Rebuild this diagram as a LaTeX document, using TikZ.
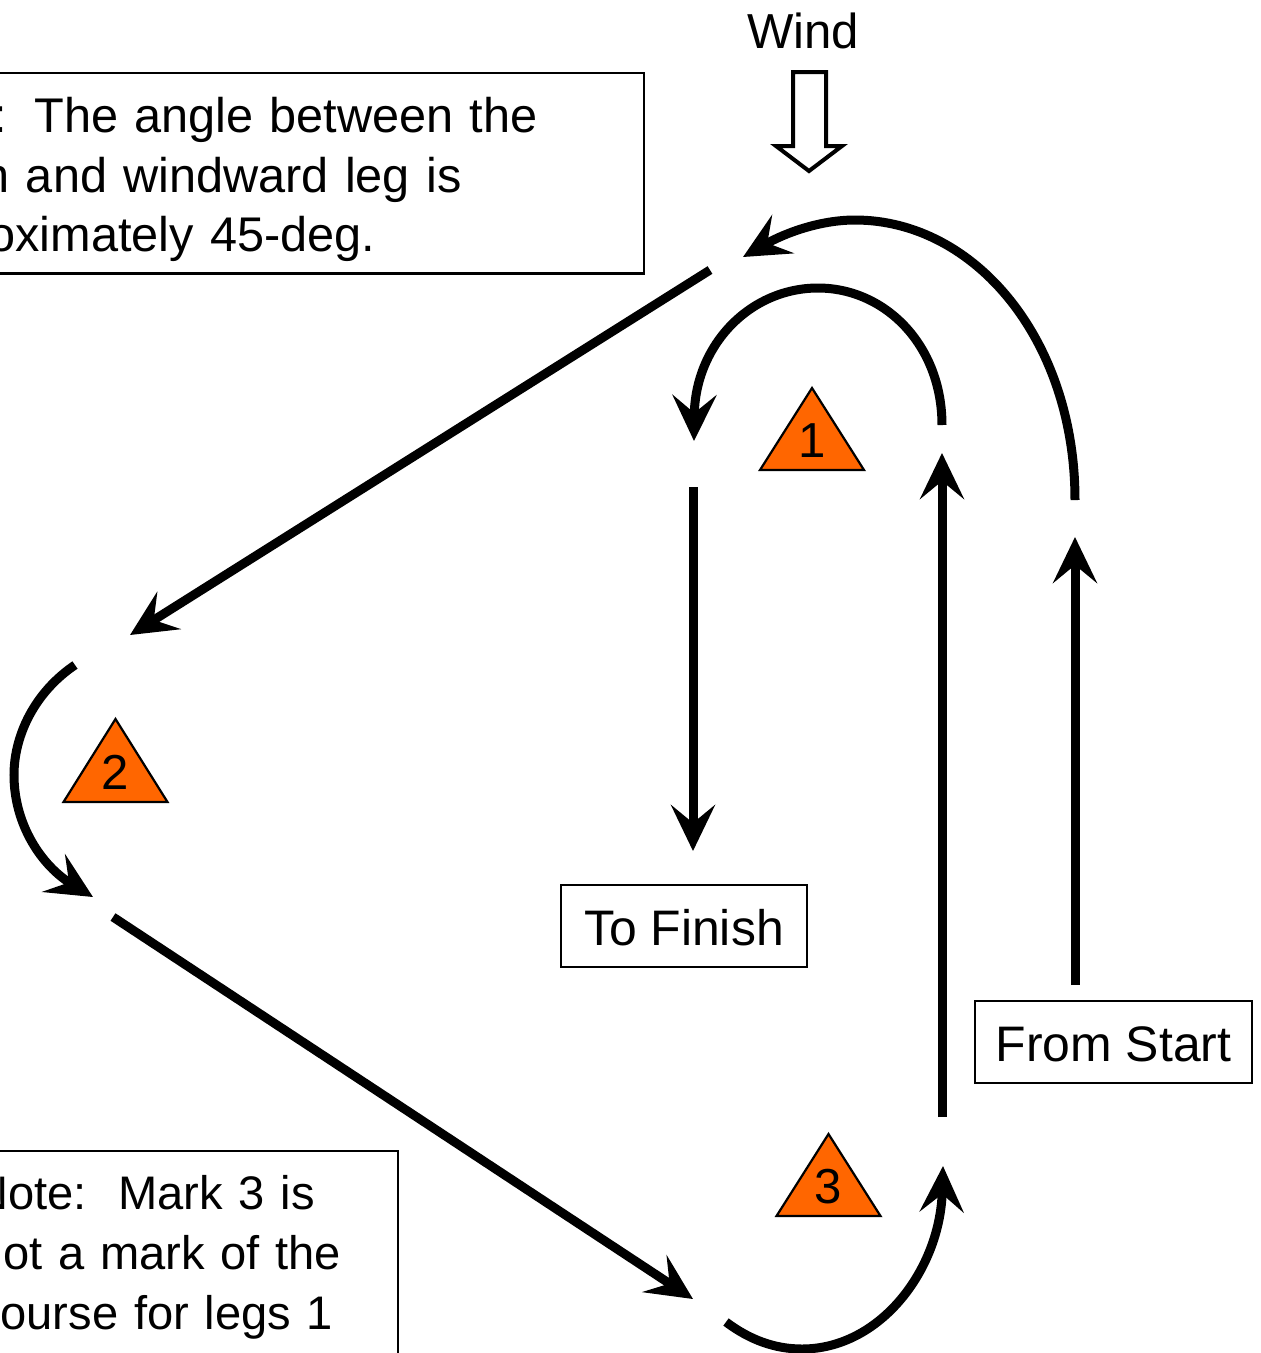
\documentclass[tikz,border=0pt]{standalone}
\usepackage{fontspec}
\setmainfont{Liberation Sans}
\usetikzlibrary{arrows.meta}
\definecolor{markorange}{HTML}{FF6600}
\tikzset{
    leg/.style={line width=0.09cm,-{Stealth[length=0.46cm,width=0.44cm,inset=0.18cm]}},
    markfill/.style={draw=black,fill=markorange,line width=0.022cm,line join=miter},
    notebox/.style={draw=black,line width=0.02cm,inner xsep=0.2cm,inner ysep=0,anchor=north west,align=left,font=\fontsize{13.85pt}{17.07pt}\selectfont},
    labelbox/.style={draw=black,line width=0.02cm,inner sep=0,text height=0.385cm,text depth=0cm,font=\fontsize{14.2pt}{17.07pt}\selectfont},
    windarrow/.style={draw=black,fill=white,line width=0.04cm,miter limit=10}
}
\begin{document}
\fontsize{13.98pt}{17.07pt}\selectfont
\begin{tikzpicture}
        \path[use as bounding box,clip] (0,0) rectangle (12.6,-13.53);
        %% wind
        \node (wind) at (8.03,-0.31) {Wind};
        \draw[windarrow] (7.93,-0.72) -- (8.26,-0.72) -- (8.26,-1.46) -- (8.42,-1.46) -- (8.09,-1.71) -- (7.76,-1.46) -- (7.93,-1.46) -- cycle;
        %% notes
        \node[notebox,text width=7.33cm] (noteangle) at (-1.30,-0.715) {\rule{0pt}{0.595cm}Note:\hspace{0.27cm}The angle between the\\\hspace*{-0.03cm}reach and windward leg is\\approximately 45-deg.\rule[-0.215cm]{0pt}{0pt}};
        \node[notebox,text width=4.01cm,font=\fontsize{13.4pt}{17.07pt}\selectfont] (notemark) at (-0.44,-11.50) {\rule{0pt}{0.58cm}\hspace*{-0.03cm}Note:\hspace{0.32cm}Mark 3 is\\not a mark of the\\course for legs 1\rule[-0.6cm]{0pt}{0pt}};
        %% boxes
        \node[labelbox,minimum width=2.46cm,minimum height=0.82cm] (tofinish) at (6.84,-9.26) {To Finish};
        \node[labelbox,minimum width=2.77cm,minimum height=0.82cm] (fromstart) at (11.135,-10.42) {From Start};
        %% mark 1
        \draw[markfill,xshift=8.12cm,yshift=-4.70cm] (-0.52,0) -- (0,0.82) -- (0.52,0) -- cycle;
        \node (markone) at (8.12,-4.41) {1};
        %% mark 2
        \draw[markfill,xshift=1.155cm,yshift=-8.02cm] (-0.52,0) -- (0,0.83) -- (0.52,0) -- cycle;
        \node (marktwo) at (1.15,-7.72) {2};
        %% mark 3
        \draw[markfill,xshift=8.285cm,yshift=-12.16cm] (-0.52,0) -- (0,0.82) -- (0.52,0) -- cycle;
        \node (markthree) at (8.28,-11.87) {3};
        %% leg from start
        \coordinate (starta) at (10.75,-9.85);
        \coordinate (startb) at (10.75,-5.37);
        \draw[leg] (starta) -- (startb);
        %% round mark 1, outer
        \coordinate (outera) at (10.75,-5.00);
        \coordinate (outerb) at (7.43,-2.57);
        \draw[leg] (outera) .. controls (10.75,-3.40) and (9.75,-2.20) .. (8.55,-2.20) .. controls (8.20,-2.20) and (7.85,-2.33) .. (outerb);
        %% leg to mark 2
        \coordinate (reacha) at (7.10,-2.70);
        \coordinate (reachb) at (1.30,-6.35);
        \draw[leg] (reacha) -- (reachb);
        %% round mark 2
        \coordinate (rounda) at (0.75,-6.65);
        \coordinate (roundb) at (0.93,-8.97);
        \draw[leg] (rounda) .. controls (0.35,-6.92) and (0.14,-7.35) .. (0.14,-7.75) .. controls (0.14,-8.25) and (0.42,-8.66) .. (roundb);
        %% leg to mark 3
        \coordinate (runa) at (1.13,-9.17);
        \coordinate (runb) at (6.93,-12.99);
        \draw[leg] (runa) -- (runb);
        %% round mark 3
        \coordinate (lowera) at (7.26,-13.22);
        \coordinate (lowerb) at (9.43,-11.66);
        \draw[leg] (lowera) .. controls (7.50,-13.40) and (7.75,-13.49) .. (8.02,-13.49) .. controls (8.80,-13.49) and (9.40,-12.70) .. (lowerb);
        %% windward leg
        \coordinate (upa) at (9.42,-11.17);
        \coordinate (upb) at (9.42,-4.53);
        \draw[leg] (upa) -- (upb);
        %% round mark 1, inner
        \coordinate (innera) at (9.42,-4.25);
        \coordinate (innerb) at (6.94,-4.41);
        \draw[leg] (innera) .. controls (9.42,-3.45) and (8.85,-2.88) .. (8.18,-2.88) .. controls (7.50,-2.88) and (6.95,-3.45) .. (innerb);
        %% leg to finish
        \coordinate (downa) at (6.93,-4.87);
        \coordinate (downb) at (6.93,-8.51);
        \draw[leg] (downa) -- (downb);
    \end{tikzpicture}
\end{document}
